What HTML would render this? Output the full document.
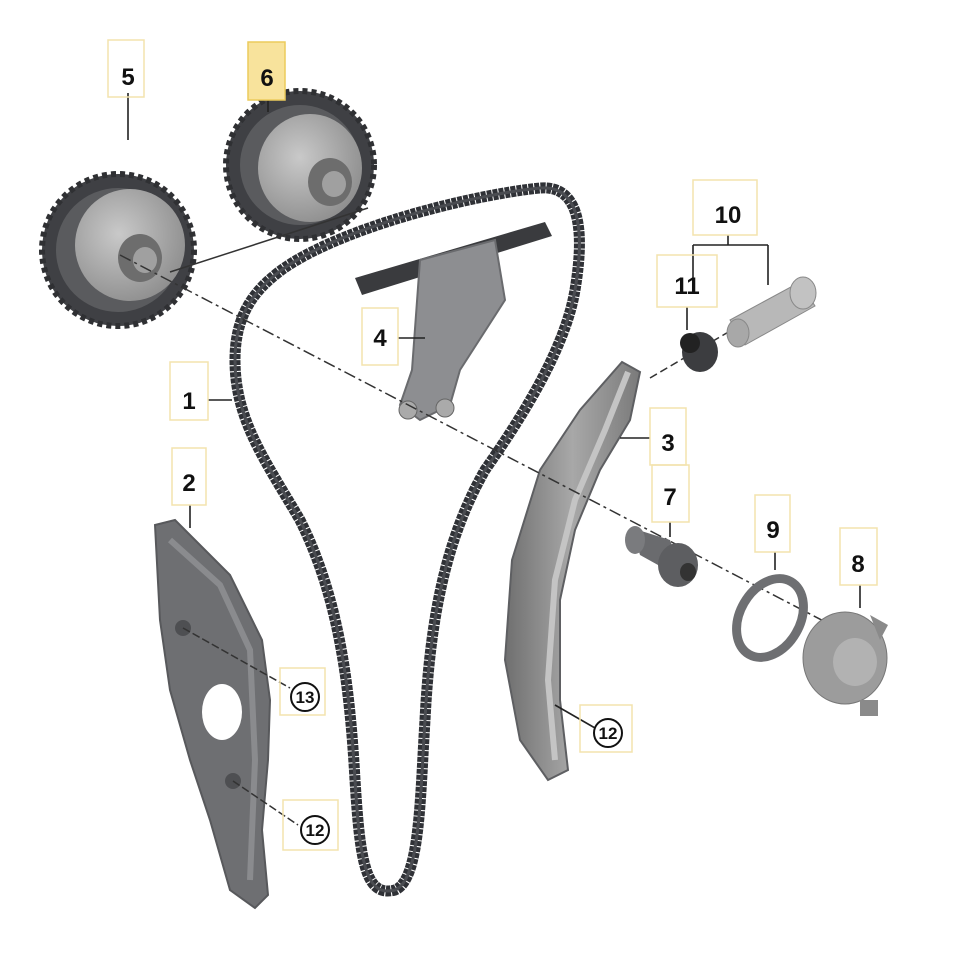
<!DOCTYPE html>
<html><head><meta charset="utf-8"><style>
html,body{margin:0;padding:0;background:#fff;width:962px;height:962px;overflow:hidden}
svg{display:block}
text{font-family:"Liberation Sans",sans-serif;font-weight:bold;fill:#111}
</style></head><body>
<svg width="962" height="962" viewBox="0 0 962 962" xmlns="http://www.w3.org/2000/svg">
<defs>
<radialGradient id="disk" cx="0.4" cy="0.4" r="0.7"><stop offset="0" stop-color="#c9c9c9"/><stop offset="1" stop-color="#8a8a8a"/></radialGradient>
<linearGradient id="rail" x1="0" y1="0" x2="1" y2="0"><stop offset="0" stop-color="#6f6f6f"/><stop offset="0.5" stop-color="#a8a8a8"/><stop offset="1" stop-color="#7a7a7a"/></linearGradient>
</defs>

<!-- sprocket 6 -->
<g>
<circle cx="300" cy="165" r="74" fill="#3f4044" stroke="#2f3033" stroke-width="6" stroke-dasharray="5 4"/>
<circle cx="300" cy="165" r="60" fill="#5a5b5e"/>
<ellipse cx="310" cy="168" rx="52" ry="54" fill="url(#disk)"/>
<ellipse cx="330" cy="182" rx="22" ry="24" fill="#6d6d6d"/>
<ellipse cx="334" cy="184" rx="12" ry="13" fill="#a0a0a0"/>
</g>
<!-- sprocket 5 -->
<g>
<circle cx="118" cy="250" r="76" fill="#3f4044" stroke="#2f3033" stroke-width="6" stroke-dasharray="5 4"/>
<circle cx="118" cy="250" r="62" fill="#5a5b5e"/>
<ellipse cx="130" cy="245" rx="55" ry="56" fill="url(#disk)"/>
<ellipse cx="140" cy="258" rx="22" ry="24" fill="#6d6d6d"/>
<ellipse cx="145" cy="260" rx="12" ry="13" fill="#a0a0a0"/>
</g>

<!-- guide 2 -->
<path d="M155 525 L175 520 L230 575 L262 640 L270 700 L268 760 L262 830 L268 895 L255 908 L230 890 L210 820 L190 760 L170 690 L160 620 Z" fill="#6e6f72" stroke="#58595c" stroke-width="2"/>
<path d="M170 540 L220 585 L250 650 L255 760 L250 880" fill="none" stroke="#8a8b8e" stroke-width="6"/>
<ellipse cx="222" cy="712" rx="20" ry="28" fill="#fff"/>
<circle cx="183" cy="628" r="8" fill="#4e4f52"/>
<circle cx="233" cy="781" r="8" fill="#4e4f52"/>

<!-- chain -->
<path d="M275 275 C330 230 470 195 540 188 C580 185 585 230 575 290 C565 350 520 420 485 470 C445 540 430 620 425 720 C420 800 420 880 395 890 C365 898 360 860 355 780 C350 690 340 600 300 520 C265 460 235 420 235 360 C235 320 250 295 275 275 Z" fill="none" stroke="#2f3136" stroke-width="11" stroke-dasharray="5 1"/>
<path d="M275 275 C330 230 470 195 540 188 C580 185 585 230 575 290 C565 350 520 420 485 470 C445 540 430 620 425 720 C420 800 420 880 395 890 C365 898 360 860 355 780 C350 690 340 600 300 520 C265 460 235 420 235 360 C235 320 250 295 275 275 Z" fill="none" stroke="#4a4c51" stroke-width="3"/>

<!-- guide 4 -->
<path d="M355 278 L545 222 L552 236 L362 295 Z" fill="#3a3b3e"/>
<path d="M420 260 L495 240 L505 300 L460 370 L450 405 L420 420 L400 405 L412 370 Z" fill="#8d8e91" stroke="#6a6b6e" stroke-width="2"/>
<circle cx="408" cy="410" r="9" fill="#aaa" stroke="#666"/>
<circle cx="445" cy="408" r="9" fill="#aaa" stroke="#666"/>

<!-- rail 3 -->
<path d="M622 362 L640 372 L630 420 L600 470 L575 530 L560 600 L560 700 L568 770 L548 780 L520 740 L505 660 L512 560 L540 470 L580 410 Z" fill="url(#rail)" stroke="#5e5f62" stroke-width="2"/>
<path d="M628 372 L605 430 L575 500 L555 580 L548 680 L555 760" fill="none" stroke="#c4c4c4" stroke-width="6"/>

<!-- axis lines -->
<path d="M120 255 L860 640" stroke="#333" stroke-width="1.5" stroke-dasharray="12 4 3 4" fill="none"/>
<path d="M170 272 L368 208" stroke="#333" stroke-width="1.5" fill="none"/>
<path d="M650 378 L800 290" stroke="#333" stroke-width="1.5" stroke-dasharray="8 4" fill="none"/>
<path d="M183 628 L290 688" stroke="#333" stroke-width="1.5" stroke-dasharray="8 3" fill="none"/>
<path d="M233 781 L298 825" stroke="#333" stroke-width="1.5" stroke-dasharray="8 3" fill="none"/>

<!-- 11 -->
<ellipse cx="700" cy="352" rx="18" ry="20" fill="#3c3d40"/>
<ellipse cx="690" cy="343" rx="10" ry="10" fill="#222"/>
<!-- 10 -->
<path d="M730 320 L800 282 L815 306 L745 345 Z" fill="#b8b8b8" stroke="#888"/>
<ellipse cx="738" cy="333" rx="11" ry="14" fill="#a8a8a8" stroke="#888"/>
<ellipse cx="803" cy="293" rx="13" ry="16" fill="#c2c2c2" stroke="#888"/>
<!-- 7 -->
<path d="M632 528 L670 540 L685 580 L640 555 Z" fill="#6a6b6e"/>
<ellipse cx="635" cy="540" rx="10" ry="14" fill="#7a7b7e"/>
<ellipse cx="678" cy="565" rx="20" ry="22" fill="#5d5e61"/>
<ellipse cx="688" cy="572" rx="8" ry="9" fill="#333"/>
<!-- 9 -->
<ellipse cx="770" cy="618" rx="30" ry="42" transform="rotate(30 770 618)" fill="none" stroke="#6e6f72" stroke-width="9"/>
<!-- 8 -->
<ellipse cx="845" cy="658" rx="42" ry="46" fill="#9c9c9c" stroke="#777"/>
<ellipse cx="855" cy="662" rx="22" ry="24" fill="#b2b2b2"/>
<path d="M870 615 L888 625 L880 640 Z" fill="#8a8a8a"/>
<rect x="860" y="700" width="18" height="16" fill="#8a8a8a"/>

<!-- leader lines -->
<g stroke="#222" stroke-width="1.6" fill="none">
<path d="M128 93 L128 140"/>
<path d="M268 100 L268 112"/>
<path d="M728 235 L728 245 M693 245 L768 245 M693 245 L693 280 M768 245 L768 285"/>
<path d="M687 307 L687 330"/>
<path d="M398 338 L425 338"/>
<path d="M208 400 L232 400"/>
<path d="M650 438 L620 438"/>
<path d="M190 505 L190 528"/>
<path d="M670 522 L670 537"/>
<path d="M775 552 L775 570"/>
<path d="M860 585 L860 608"/>
<path d="M555 705 L595 728"/>
</g>

<!-- label boxes -->
<g fill="none" stroke="#f3e3ad" stroke-width="1.5">
<rect x="108" y="40" width="36" height="57"/>
<rect x="693" y="180" width="64" height="55"/>
<rect x="657" y="255" width="60" height="52"/>
<rect x="362" y="308" width="36" height="57"/>
<rect x="170" y="362" width="38" height="58"/>
<rect x="650" y="408" width="36" height="57"/>
<rect x="172" y="448" width="34" height="57"/>
<rect x="652" y="465" width="37" height="57"/>
<rect x="755" y="495" width="35" height="57"/>
<rect x="840" y="528" width="37" height="57"/>
<rect x="280" y="668" width="45" height="47"/>
<rect x="580" y="705" width="52" height="47"/>
<rect x="283" y="800" width="55" height="50"/>
</g>
<rect x="248" y="42" width="37" height="58" fill="#f8e39c" stroke="#eccb5c" stroke-width="1.5"/>

<g font-size="24" text-anchor="middle">
<text x="128" y="85">5</text>
<text x="267" y="86" fill="#5a4a10">6</text>
<text x="728" y="223">10</text>
<text x="687" y="294">11</text>
<text x="380" y="346">4</text>
<text x="189" y="409">1</text>
<text x="668" y="451">3</text>
<text x="189" y="491">2</text>
<text x="670" y="505">7</text>
<text x="773" y="538">9</text>
<text x="858" y="572">8</text>
</g>
<g font-size="17" text-anchor="middle">
<circle cx="305" cy="697" r="14" fill="#fff" stroke="#111" stroke-width="2"/>
<text x="305" y="703">13</text>
<circle cx="608" cy="733" r="14" fill="#fff" stroke="#111" stroke-width="2"/>
<text x="608" y="739">12</text>
<circle cx="315" cy="830" r="14" fill="#fff" stroke="#111" stroke-width="2"/>
<text x="315" y="836">12</text>
</g>
</svg>
</body></html>
